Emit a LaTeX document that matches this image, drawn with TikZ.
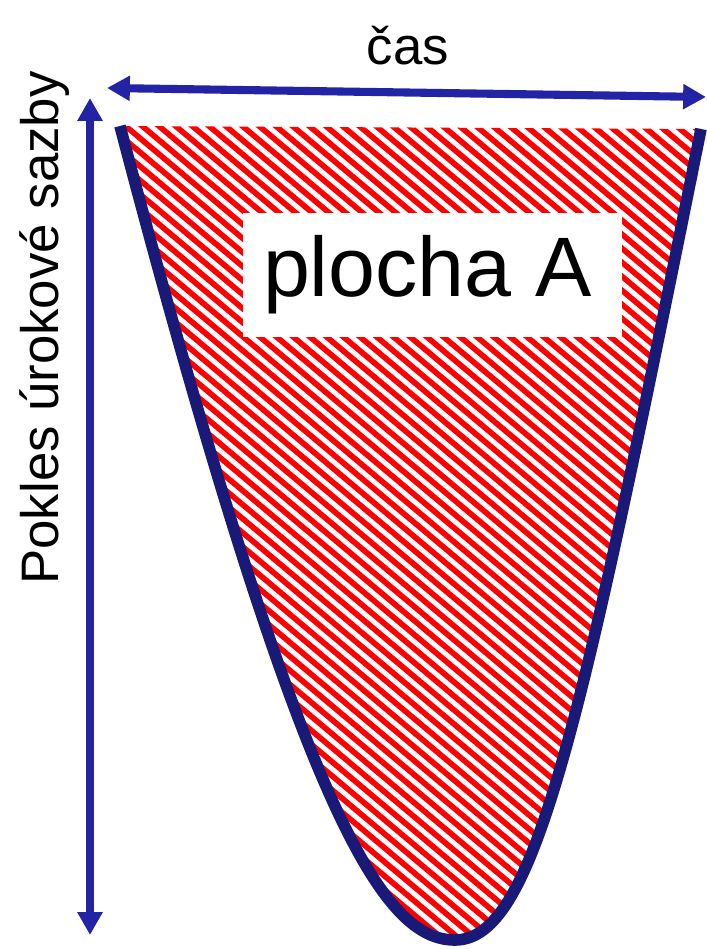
\documentclass[tikz,border=0pt]{standalone}
\usepackage{fontspec}
\setmainfont{Liberation Sans}
\usetikzlibrary{arrows.meta}
\definecolor{arrowblue}{RGB}{35,35,165}
\definecolor{curveblue}{RGB}{25,25,120}
\begin{document}
\begin{tikzpicture}[x=0.01cm,y=-0.01cm,
  dimarrow/.style={arrowblue, line width=2.3pt, {Triangle[length=6.5pt,width=6.8pt]}-{Triangle[length=6.5pt,width=6.8pt]}},
  bowl/.style={curveblue, line width=3.3pt},
  stripe/.style={red, line width=1.6pt},
  labeltext/.style={font=\fontsize{15}{18}\selectfont, inner sep=0pt},
  areabox/.style={fill=white, inner sep=0pt, minimum width=107.8pt, minimum height=35.3pt, font=\fontsize{24}{28}\selectfont}]
\useasboundingbox (0,0) rectangle (707,949);
\coordinate (tl) at (120,126);
\coordinate (tr) at (701,129);
\coordinate (bot) at (455,940);
\begin{scope}
  \clip (tl) .. controls (304,827) and (385,940) .. (bot) .. controls (535,940) and (580,730) .. (tr) -- cycle;
  \foreach \i in {0,...,105} {
    \draw[stripe] ({-1010+16.7*\i},0) -- ++(1200,1007);
  }
\end{scope}
\node[areabox] (area) at (432.5,275) {\hspace*{-3pt}plocha A};
\draw[bowl] (tl) .. controls (304,827) and (385,940) .. (bot) .. controls (535,940) and (580,730) .. (tr);
\coordinate (hl) at (107,88);
\coordinate (hr) at (706,97);
\draw[dimarrow] (hl) -- (hr);
\coordinate (vt) at (90,98);
\coordinate (vb) at (90,935);
\draw[dimarrow] (vt) -- (vb);
\node[labeltext] (cas) at (408,46) {čas};
\node[labeltext, rotate=90] (pokles) at (45,328) {Pokles úrokové sazby};
\end{tikzpicture}
\end{document}
